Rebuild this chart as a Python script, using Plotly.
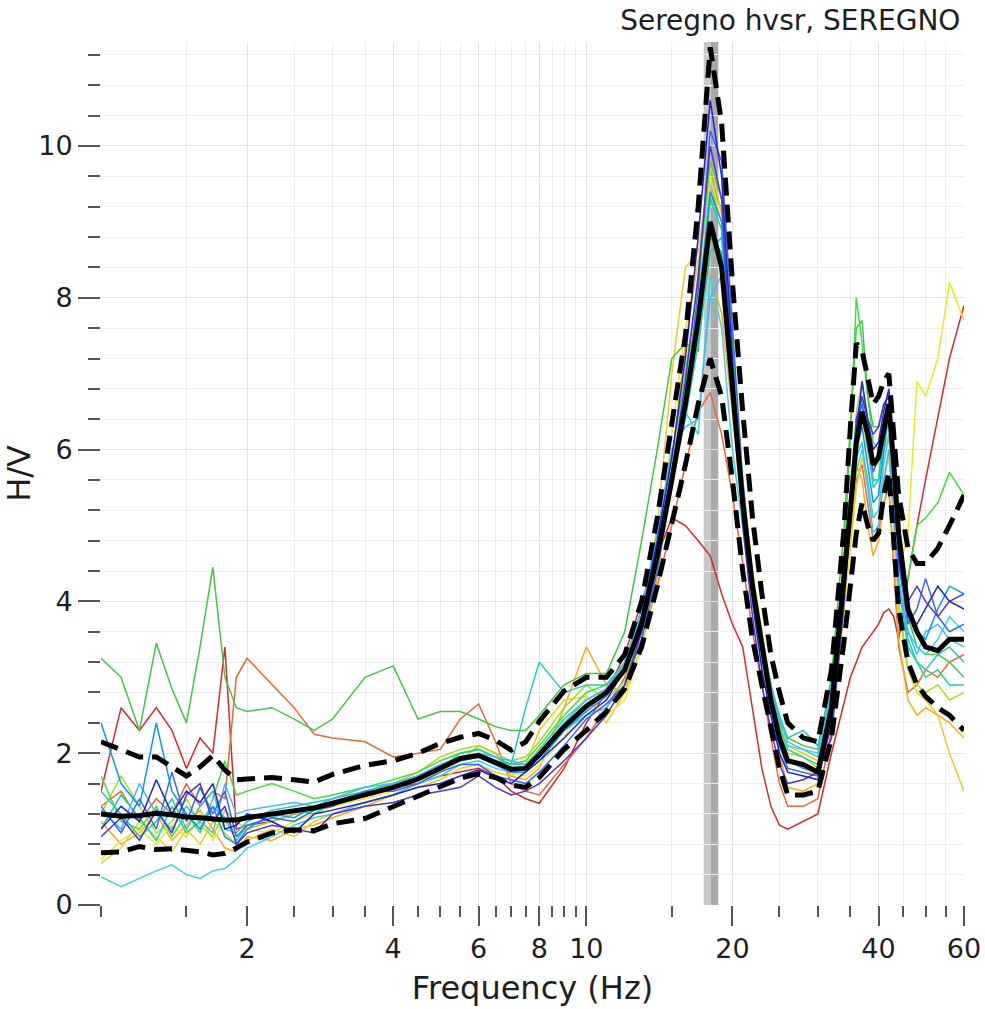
import math
import plotly.graph_objects as go

# frecuencias (Hz) comunes a todas las curvas
freq = [1.0, 1.1, 1.2, 1.3, 1.4, 1.5, 1.6, 1.7, 1.8, 1.9,
        2.0, 2.25, 2.5, 2.75, 3.0, 3.5, 4.0, 4.5, 5.0, 5.5,
        6.0, 6.5, 7.0, 7.5, 8.0, 9.0, 10, 11, 12, 13,
        14, 15, 16, 17, 18, 19, 20, 21, 22, 23,
        24, 25, 26, 28, 30, 32, 34, 35, 36, 37,
        38, 39, 40, 41, 42, 43, 44, 46, 48, 50,
        53, 56, 60]

# curva media H/V y curvas +/- desviacion
hv_mean = [1.20, 1.17, 1.18, 1.21, 1.19, 1.16, 1.15, 1.13, 1.12, 1.12,
           1.15, 1.20, 1.25, 1.28, 1.34, 1.46, 1.55, 1.66, 1.80, 1.93,
           1.97, 1.88, 1.79, 1.80, 1.98, 2.35, 2.62, 2.80, 3.10, 3.70,
           4.60, 5.60, 6.60, 7.70, 9.00, 8.40, 6.80, 5.30, 4.20, 3.40,
           2.70, 2.20, 1.90, 1.85, 1.75, 2.60, 4.30, 5.20, 6.10, 6.50,
           6.20, 5.80, 5.90, 6.30, 6.60, 5.80, 4.90, 3.90, 3.60, 3.40,
           3.35, 3.50, 3.50]
hv_plus = [2.15, 2.05, 1.95, 1.95, 1.83, 1.70, 1.82, 1.97, 1.78, 1.65,
           1.66, 1.68, 1.65, 1.62, 1.72, 1.84, 1.90, 2.00, 2.13, 2.21,
           2.26, 2.17, 2.04, 2.15, 2.42, 2.82, 3.00, 3.00, 3.30, 4.00,
           5.10, 6.30, 7.50, 9.20, 11.30, 10.30, 8.20, 6.50, 5.10, 4.10,
           3.30, 2.80, 2.40, 2.20, 2.15, 3.10, 5.00, 6.30, 7.40, 7.30,
           6.90, 6.60, 6.70, 6.90, 7.00, 6.20, 5.40, 4.70, 4.50, 4.50,
           4.70, 5.00, 5.40]
hv_minus = [0.69, 0.70, 0.77, 0.73, 0.74, 0.72, 0.70, 0.66, 0.68, 0.75,
            0.83, 0.95, 0.99, 0.98, 1.07, 1.14, 1.30, 1.43, 1.55, 1.67,
            1.73, 1.68, 1.58, 1.55, 1.68, 2.05, 2.30, 2.55, 2.85, 3.40,
            4.20, 5.00, 5.80, 6.60, 7.20, 6.70, 5.60, 4.40, 3.50, 2.90,
            2.30, 1.80, 1.45, 1.45, 1.50, 2.20, 3.50, 4.20, 4.90, 5.30,
            5.00, 4.80, 4.90, 5.40, 5.70, 4.80, 3.90, 3.20, 2.90, 2.75,
            2.60, 2.50, 2.30]

# ventanas individuales
win_01 = [1.0, 1.3, 1.1, 1.65, 1.2, 1.5, 1.35, 1.6, 1.0, 1.05,
          1.2, 1.1, 0.95, 1.2, 1.25, 1.35, 1.45, 1.55, 1.6, 1.7,
          1.78, 1.68, 1.6, 1.75, 1.9, 2.2, 2.5, 2.7, 3.1, 3.8,
          4.8, 5.9, 7.2, 8.8, 10.6, 9.6, 7.2, 5.3, 4.0, 3.1,
          2.5, 2.0, 1.75, 1.7, 1.65, 2.4, 4.1, 5.0, 6.2, 6.9,
          6.4, 6.0, 6.1, 6.5, 6.8, 5.9, 4.6, 3.8, 3.7, 3.9,
          4.2, 4.0, 3.9]
win_02 = [1.3, 0.95, 1.4, 1.0, 1.75, 1.1, 1.55, 1.2, 1.5, 0.9,
          1.05, 1.15, 1.1, 1.25, 1.3, 1.5, 1.5, 1.6, 1.75, 1.85,
          1.85, 1.7, 1.65, 1.6, 1.75, 2.1, 2.45, 2.65, 2.9, 3.5,
          4.4, 5.5, 6.6, 8.1, 10.2, 9.8, 7.6, 5.6, 4.3, 3.3,
          2.6, 2.1, 1.8, 1.75, 1.7, 2.5, 4.4, 5.3, 6.3, 6.6,
          6.2, 5.7, 5.9, 6.4, 6.6, 5.6, 4.5, 3.7, 3.9, 4.3,
          3.8, 3.6, 3.7]
win_03 = [2.4, 1.6, 1.3, 2.4, 1.5, 1.2, 1.0, 1.3, 0.9, 0.8,
          1.0, 1.2, 1.15, 1.3, 1.35, 1.45, 1.55, 1.65, 1.8, 1.9,
          1.95, 1.85, 1.75, 1.75, 1.9, 2.3, 2.55, 2.75, 3.1, 3.7,
          4.6, 5.6, 6.7, 7.8, 9.4, 9.0, 7.0, 5.2, 4.1, 3.3,
          2.7, 2.2, 1.9, 1.8, 1.75, 2.6, 4.2, 5.1, 6.0, 6.3,
          5.8, 5.3, 5.4, 6.0, 6.5, 5.7, 4.7, 3.9, 3.6, 3.5,
          3.9, 4.2, 4.1]
win_04 = [0.37, 0.24, 0.35, 0.45, 0.53, 0.40, 0.35, 0.45, 0.48, 0.6,
          0.75, 0.9, 1.05, 1.15, 1.2, 1.35, 1.45, 1.6, 1.7, 1.85,
          1.9, 1.8, 1.75, 1.8, 2.0, 2.3, 2.5, 2.6, 2.9, 3.5,
          4.5, 5.8, 6.5, 6.2, 8.3, 7.6, 6.0, 5.0, 4.0, 3.2,
          2.7, 2.3, 2.1, 2.05, 2.0, 2.8, 4.5, 5.2, 5.7, 6.0,
          5.6, 5.1, 5.2, 5.8, 6.2, 5.3, 4.3, 3.6, 3.4, 3.3,
          3.5, 3.8, 3.6]
win_05 = [1.5, 1.2, 0.9, 1.1, 1.4, 1.0, 1.3, 1.5, 1.0, 0.95,
          1.1, 1.25, 1.3, 1.35, 1.4, 1.5, 1.6, 1.7, 1.85, 1.95,
          2.0, 1.9, 1.85, 2.6, 3.2, 2.8, 2.9, 2.9, 3.2, 3.8,
          4.7, 5.6, 6.4, 7.4, 8.6, 8.8, 7.0, 5.3, 4.2, 3.5,
          2.9, 2.5, 2.2, 2.3, 2.1, 2.9, 4.6, 5.4, 6.3, 6.7,
          6.0, 5.6, 5.6, 6.1, 6.4, 5.5, 4.2, 3.4, 3.2, 3.1,
          3.3, 3.4, 3.2]
win_06 = [3.25, 3.0, 2.3, 3.45, 2.85, 2.4, 3.4, 4.45, 3.0, 2.6,
          2.55, 2.6, 2.45, 2.3, 2.45, 3.0, 3.15, 2.45, 2.55, 2.55,
          2.45, 2.35, 2.3, 2.3, 2.5, 2.9, 3.05, 3.05, 3.6, 4.8,
          6.0, 7.2, 7.4, 7.3, 8.8, 8.6, 7.0, 5.4, 4.3, 3.5,
          2.9, 2.4, 2.2, 2.1, 2.05, 3.0, 5.0, 6.3, 7.6, 7.7,
          6.7, 6.3, 6.3, 6.6, 6.7, 5.9, 4.6, 3.8, 3.4, 3.3,
          3.3, 3.2, 3.0]
win_07 = [1.7, 1.1, 1.0, 1.3, 0.9, 1.2, 0.95, 1.4, 1.9, 1.45,
          1.5, 1.6, 1.5, 1.4, 1.45, 1.55, 1.65, 1.75, 1.9, 2.0,
          2.05, 1.95, 1.85, 1.9, 2.1, 2.5, 2.8, 2.9, 3.2, 3.9,
          4.8, 5.9, 7.0, 8.2, 9.8, 9.3, 7.4, 5.6, 4.3, 3.4,
          2.7, 2.2, 1.9, 1.85, 1.75, 2.6, 4.6, 6.2, 8.0, 7.4,
          6.7, 6.1, 6.0, 6.3, 6.5, 5.4, 4.2, 4.3, 5.0, 5.1,
          5.3, 5.7, 5.4]
win_08 = [1.2, 1.7, 1.3, 0.95, 1.1, 1.4, 1.05, 0.9, 1.25, 1.1,
          1.0, 1.1, 1.2, 1.25, 1.3, 1.45, 1.6, 1.75, 1.95, 2.05,
          2.1, 2.0, 1.9, 1.95, 2.15, 2.6, 2.9, 2.7, 2.95, 3.6,
          4.5, 5.6, 6.8, 8.0, 9.4, 9.2, 7.3, 5.5, 4.3, 3.5,
          2.8, 2.3, 2.0, 1.95, 1.8, 2.7, 4.3, 5.2, 6.5, 6.9,
          6.3, 5.9, 5.8, 6.2, 6.4, 5.4, 4.0, 3.1, 2.9, 2.8,
          2.9, 2.7, 2.8]
win_09 = [0.6, 0.85, 1.0, 0.8, 1.05, 0.9, 1.2, 0.85, 1.1, 0.9,
          1.0, 0.95, 1.1, 1.2, 1.3, 1.4, 1.5, 1.6, 1.75, 1.9,
          1.95, 1.85, 1.75, 1.7, 1.85, 2.2, 2.75, 2.5, 2.7, 3.4,
          4.6, 6.2, 7.6, 8.5, 9.6, 9.0, 7.1, 5.4, 4.1, 3.2,
          2.6, 2.2, 1.9, 1.8, 1.7, 2.4, 3.9, 4.8, 5.8, 6.4,
          6.0, 5.6, 5.6, 6.0, 6.2, 5.3, 4.4, 4.9, 6.9, 6.7,
          7.2, 8.2, 7.7]
win_10 = [0.55, 0.75, 1.1, 0.9, 0.7, 1.0, 0.8, 1.1, 0.95, 0.8,
          0.85, 1.0, 0.9, 1.1, 1.2, 1.3, 1.45, 1.55, 1.65, 1.8,
          1.85, 1.75, 1.7, 1.85, 2.3, 2.7, 2.75, 2.4, 2.8, 3.7,
          5.0, 7.0, 8.4, 8.6, 9.8, 9.1, 7.3, 5.6, 4.4, 3.6,
          2.9, 2.4, 2.1, 2.0, 1.9, 2.6, 4.0, 4.7, 5.5, 5.9,
          5.5, 5.1, 5.2, 5.6, 5.9, 5.0, 3.9, 3.1, 2.8, 2.7,
          2.5, 2.0, 1.5]
win_11 = [1.1, 0.8, 0.95, 1.2, 0.85, 1.05, 1.25, 1.0, 0.75, 0.7,
          0.9, 0.85, 1.0, 1.05, 1.15, 1.3, 1.45, 1.6, 1.75, 1.9,
          2.1, 2.0, 1.7, 1.65, 1.8, 2.6, 3.4, 2.9, 2.8, 3.4,
          4.3, 5.8, 7.4, 8.5, 8.3, 7.8, 6.5, 5.2, 4.2, 3.4,
          2.7, 2.0, 1.55, 1.5, 1.6, 2.7, 4.6, 5.4, 5.8, 5.6,
          5.0, 4.6, 4.8, 5.3, 5.5, 4.6, 3.5, 2.7, 2.5, 2.6,
          2.5, 2.4, 2.2]
win_12 = [1.3, 1.5, 1.1, 1.4, 1.2, 1.6, 1.3, 1.5, 1.4, 3.0,
          3.25, 2.9, 2.6, 2.25, 2.2, 2.15, 1.95, 2.0, 2.05, 2.45,
          2.65, 2.15, 1.6, 1.5, 1.45, 1.85, 2.2, 2.6, 3.0, 3.5,
          4.2, 5.0, 5.8, 6.5, 6.75, 6.2, 5.4, 4.5, 3.6, 2.9,
          2.2, 1.6, 1.3, 1.3, 1.4, 2.3, 4.0, 4.9, 5.6, 5.8,
          5.3, 4.8, 4.9, 5.3, 5.5, 4.5, 3.4, 2.8, 2.9, 3.1,
          3.0, 3.2, 3.3]
win_13 = [1.5, 2.6, 2.3, 2.6, 2.3, 1.8, 2.2, 2.0, 3.4, 1.0,
          1.05, 1.1, 1.2, 1.25, 1.35, 1.45, 1.55, 1.6, 1.7, 1.75,
          1.8, 1.7, 1.5, 1.4, 1.34, 1.8, 2.4, 2.8, 3.3, 4.0,
          4.6, 5.1, 5.0, 4.8, 4.6, 4.1, 3.7, 3.4, 2.6, 1.8,
          1.3, 1.05, 1.0, 1.1, 1.2, 2.0, 2.7, 3.0, 3.2, 3.4,
          3.5, 3.6, 3.7, 3.85, 3.9, 3.8, 3.5, 4.3, 5.0, 5.6,
          6.4, 7.2, 7.9]
win_14 = [1.0, 1.45, 1.15, 0.85, 1.3, 0.95, 1.1, 1.3, 1.15, 0.85,
          1.05, 1.15, 1.25, 1.2, 1.35, 1.5, 1.6, 1.7, 1.8, 2.0,
          2.05, 1.95, 1.85, 1.85, 2.05, 2.45, 2.7, 2.85, 3.15, 3.8,
          4.7, 5.7, 6.8, 7.9, 9.3, 8.9, 7.0, 5.3, 4.2, 3.4,
          2.8, 2.35, 2.05, 1.95, 1.85, 2.8, 4.4, 5.5, 6.4, 6.6,
          6.1, 5.5, 5.6, 6.2, 6.4, 5.5, 4.3, 3.5, 3.2, 3.0,
          3.1, 2.9, 2.9]
win_15 = [0.9, 1.15, 0.85, 1.25, 0.95, 1.45, 1.6, 1.1, 1.3, 0.8,
          0.95, 1.05, 1.0, 0.95, 1.2, 1.3, 1.35, 1.45, 1.5, 1.55,
          1.7, 1.55, 1.45, 1.5, 1.6, 1.9, 2.2, 2.5, 2.9, 3.6,
          4.6, 5.7, 6.9, 8.3, 10.0, 9.3, 6.9, 5.0, 3.8, 2.9,
          2.3, 1.85, 1.6, 1.65, 1.75, 2.2, 4.0, 5.1, 6.4, 6.7,
          6.4, 6.2, 6.3, 6.6, 6.7, 5.8, 4.7, 4.0, 4.2, 4.0,
          3.8, 4.0, 4.1]
win_16 = [1.25, 1.0, 1.6, 1.2, 1.0, 1.3, 1.1, 0.95, 1.6, 1.2,
          1.25, 1.3, 1.35, 1.3, 1.4, 1.55, 1.6, 1.7, 1.85, 1.95,
          2.0, 1.95, 1.9, 1.85, 2.0, 2.4, 2.7, 2.85, 3.2, 3.9,
          4.9, 6.0, 6.3, 6.4, 8.0, 8.3, 6.9, 5.4, 4.3, 3.5,
          2.9, 2.45, 2.15, 2.05, 1.95, 2.9, 4.5, 5.3, 5.9, 6.1,
          5.5, 4.9, 5.0, 5.6, 6.0, 5.2, 4.2, 3.6, 3.3, 3.6,
          3.7, 3.5, 3.4]

windows = [win_13, win_12, win_11, win_10, win_09, win_08, win_07, win_06,
           win_14, win_05, win_04, win_16, win_03, win_02, win_15, win_01]
window_colors = ['#d42a2a', '#e46a36', '#ffa818', '#f0cc20', '#e8ea22', '#a8dc22',
                 '#3ede3e', '#44c444', '#14d896', '#22c8bc', '#36d4e4', '#44b8ff',
                 '#0a94ff', '#3366ff', '#5533cc', '#2020d8']

# banda del pico f0
f0_band = [17.45, 18.05, 18.7]

# ticks
x_major = [2, 4, 6, 8, 10, 20, 40, 60]
x_minor = [1, 1.5, 2.5, 3, 3.5, 4.5, 5, 5.5, 6.5, 7, 7.5, 8.5, 9, 9.5,
           15, 25, 30, 35, 45, 50, 55]
y_major = [0, 2, 4, 6, 8, 10]

font_fam = 'DejaVu Sans'

fig = go.Figure()

for vals, col in zip(windows, window_colors):
    fig.add_trace(go.Scatter(x=freq, y=vals, mode='lines',
                             line=dict(color=col, width=1.5),
                             showlegend=False, hoverinfo='skip'))

for curve in [hv_plus, hv_minus]:
    fig.add_trace(go.Scatter(x=freq, y=curve, mode='lines',
                             line=dict(color='black', width=5, dash='18px,9px'),
                             showlegend=False))
fig.add_trace(go.Scatter(x=freq, y=hv_mean, mode='lines',
                         line=dict(color='black', width=5),
                         showlegend=False))

# banda gris (f0 +/- desviacion)
fig.add_vrect(x0=f0_band[0], x1=f0_band[1], fillcolor='#c8c8c8', opacity=1,
              line_width=0, layer='below')
fig.add_vrect(x0=f0_band[1], x1=f0_band[2], fillcolor='#a9a9a9', opacity=1,
              line_width=0, layer='below')

fig.update_layout(
    width=985, height=1009,
    margin=dict(l=101, r=21, t=42, b=104),
    paper_bgcolor='white',
    plot_bgcolor='white',
    font=dict(family=font_fam, size=27, color='#1e1e1e'),
    title=dict(text='Seregno hvsr, SEREGNO', xref='container', yref='container',
               x=0.975, xanchor='right', y=0.99, yanchor='top',
               font=dict(size=28, color='#1e1e1e')),
)

fig.update_xaxes(
    type='log', range=[0, math.log10(60)], automargin=False,
    tickmode='array', tickvals=x_major, ticktext=[str(v) for v in x_major],
    ticks='outside', ticklen=20, tickwidth=1.5, tickcolor='#555555',
    showgrid=True, gridcolor='#e2e2e2', gridwidth=1,
    showline=False, zeroline=False,
    minor=dict(tickmode='array', tickvals=x_minor, ticks='outside', ticklen=11,
               tickwidth=1.5, tickcolor='#555555', showgrid=True,
               gridcolor='#ededed', gridwidth=1),
    title=dict(text='Frequency (Hz)', standoff=13),
)

fig.update_yaxes(
    range=[0, 11.37], automargin=False,
    tickmode='array', tickvals=y_major,
    ticks='outside', ticklen=22, tickwidth=1.5, tickcolor='#555555',
    showgrid=True, gridcolor='#e2e2e2', gridwidth=1,
    showline=False, zeroline=False,
    minor=dict(tick0=0, dtick=0.4, ticks='outside', ticklen=12,
               tickwidth=1.5, tickcolor='#555555', showgrid=True,
               gridcolor='#ededed', gridwidth=1),
    title=dict(text='H/V', standoff=7),
)

# sin margen en el body y sin barra de herramientas
fig.write_html('out.html', config={'displayModeBar': False},
               post_script="document.body.style.margin='0px';")
